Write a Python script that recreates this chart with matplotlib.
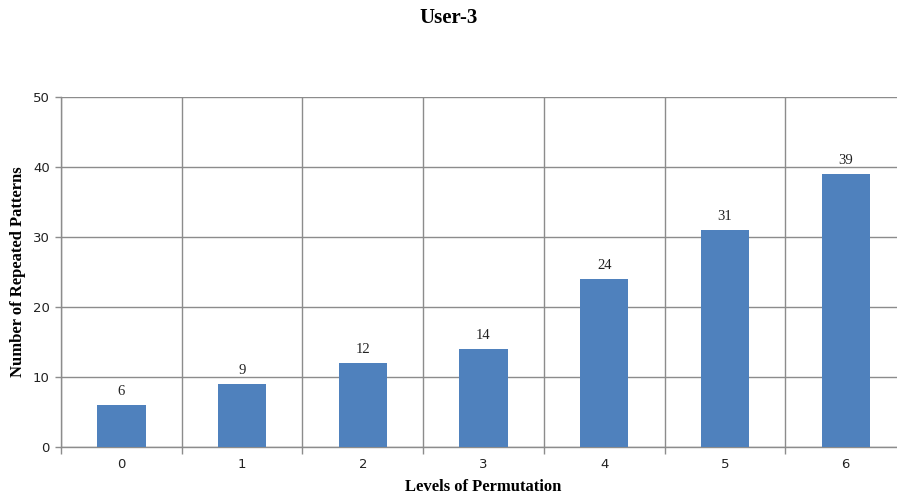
import matplotlib
matplotlib.use("Agg")
import matplotlib.pyplot as plt
from matplotlib.ticker import FixedLocator, NullFormatter

levels = ["0", "1", "2", "3", "4", "5", "6"]
patterns = [6, 9, 12, 14, 24, 31, 39]
y_ticks = [0, 10, 20, 30, 40, 50]

bar_color = "#4F81BD"
grid_color = "#8C8C8C"
serif = ["Liberation Serif", "DejaVu Serif"]
sans = ["DejaVu Sans"]

fig = plt.figure(figsize=(8.97, 4.97), dpi=100)
ax = fig.add_axes([61 / 897, 1 - 447 / 497, 845 / 897, 350 / 497])

x = list(range(len(levels)))
ax.bar(x, patterns, width=0.4, color=bar_color, zorder=3)

for xi, v in zip(x, patterns):
    ax.annotate(str(v), (xi, v), xytext=(0, 5), textcoords="offset points",
                ha="center", va="bottom", fontsize=10.5, family=serif, color="#222222")

ax.set_xlim(-0.5, len(levels) - 0.5)
ax.set_ylim(0, 50)
ax.set_yticks(y_ticks)
ax.set_xticks(x)
ax.set_xticklabels(levels)

# Vertical grid at category boundaries
ax.xaxis.set_minor_locator(FixedLocator([i + 0.5 for i in range(-1, len(levels))]))
ax.xaxis.set_minor_formatter(NullFormatter())
ax.grid(True, which="minor", axis="x", color=grid_color, linewidth=1.0, zorder=0)
ax.grid(True, which="major", axis="y", color=grid_color, linewidth=1.0, zorder=0)

ax.tick_params(axis="x", which="major", length=0, labelsize=9.5, pad=8, colors="#222222")
ax.tick_params(axis="x", which="minor", length=5, color=grid_color, width=1.0)
ax.tick_params(axis="y", length=4, color=grid_color, width=1.0, labelsize=9.5,
               pad=4, labelcolor="#222222")
for lbl in ax.get_xticklabels() + ax.get_yticklabels():
    lbl.set_family(sans)

for side in ["top", "right"]:
    ax.spines[side].set_visible(False)
for side in ["left", "bottom"]:
    ax.spines[side].set_color(grid_color)
    ax.spines[side].set_linewidth(1.0)

ax.set_xlabel("Levels of Permutation", fontsize=12, fontweight="bold",
              family=serif, labelpad=6)
ax.set_ylabel("Number of Repeated Patterns", fontsize=12, fontweight="bold",
              family=serif, labelpad=5)

fig.text(0.5, 1 - 18 / 497, "User-3", ha="center", va="center", fontsize=15,
         fontweight="bold", family=serif)

fig.savefig("out.png", dpi=100)
